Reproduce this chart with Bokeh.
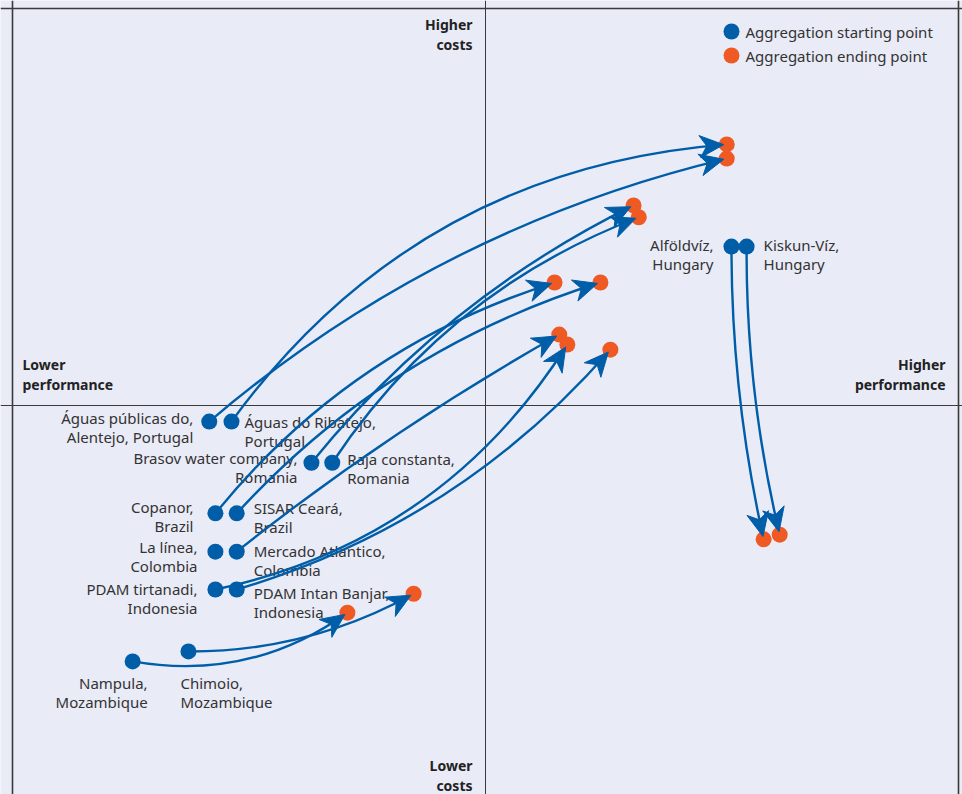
import numpy as np
from bokeh.plotting import figure
from bokeh.models import ColumnDataSource, Range1d, Span, Label
from bokeh.core.properties import value
from bokeh.embed import file_html
from bokeh.resources import INLINE

# ---------------- data ----------------
utilities = ["Águas públicas do,\nAlentejo, Portugal", "Águas do Ribatejo,\nPortugal",
             "Brasov water company,\nRomania", "Raja constanta,\nRomania",
             "Copanor,\nBrazil", "SISAR Ceará,\nBrazil",
             "La línea,\nColombia", "Mercado Atlantico,\nColombia",
             "PDAM tirtanadi,\nIndonesia", "PDAM Intan Banjar,\nIndonesia",
             "Nampula,\nMozambique", "Chimoio,\nMozambique",
             "Alföldvíz,\nHungary", "Kiskun-Víz,\nHungary"]
start_perf = [-5.84, -5.37, -3.68, -3.24, -5.71, -5.26, -5.71, -5.26, -5.71, -5.26, -7.46, -6.28, 5.20, 5.52]
start_cost = [-0.34, -0.34, -1.21, -1.21, -2.28, -2.28, -3.09, -3.09, -3.89, -3.89, -5.41, -5.20, 3.36, 3.36]
end_perf = [5.10, 5.10, 3.13, 3.24, 1.46, 2.43, np.nan, 1.56, 1.73, 2.64, -2.92, -1.52, 5.88, 6.22]
end_cost = [5.22, 5.52, 4.23, 3.98, 2.60, 2.60, np.nan, 1.50, 1.29, 1.18, -4.38, -3.98, -2.83, -2.73]

legend_labels = ["Aggregation starting point", "Aggregation ending point"]
quadrant_labels = {"top": "Higher\ncosts", "bottom": "Lower\ncosts",
                   "left": "Lower\nperformance", "right": "Higher\nperformance"}

# ---------------- styles ----------------
BG = "#E9EBF7"
BLUE = "#005DA8"
ORANGE = "#EF5A24"
TXT = "#333333"
FONT = "Noto Sans"
bend = [0.12, 0.23, 0.11, 0.16, 0.15, 0.135, 0.0, 0.04, -0.21, -0.145, -0.21, -0.13, -0.055, -0.06]
label_align = ["right", "left", "right", "left", "right", "left", "right", "left",
               "right", "left", "right", "left", "right", "left"]
label_dx = [-16, 13, -14, 15, -22, 17, -18, 17, -18, 17, 15, -8, -18, 17]
label_dy = [-4, 0, -5, -4, -6, -5, -5, -1, 0, 4, 22, 32, -2, -2]
LINE_STEP = 19

W, H = 962, 794
PX = 47.3                      # pixels per unit (both axes)
X0, Y0 = 485, 405              # pixel position of the quadrant cross
FRAME_L, FRAME_R, FRAME_T = -10.0, 10.0, 397 / PX

p = figure(width=W, height=H, output_backend="svg", toolbar_location=None,
           x_range=Range1d(-X0 / PX, (W - X0) / PX), y_range=Range1d(-(H - Y0) / PX, Y0 / PX),
           min_border_left=0, min_border_right=0, min_border_top=0, min_border_bottom=0,
           background_fill_color=BG, border_fill_color=BG, outline_line_color=None)
p.axis.visible = False
p.xgrid.visible = False
p.ygrid.visible = False

# frame borders and quadrant lines
for loc, dim, w in [(FRAME_L, "height", 1.6), (FRAME_R, "height", 1.6),
                    (FRAME_T, "width", 1.6), (0, "height", 1.0), (0, "width", 1.0)]:
    p.add_layout(Span(location=loc, dimension=dim, line_color="#3a3a3a", line_width=w,
                      level="underlay"))

# ---------------- point labels ----------------
rows = {"left": dict(x=[], y=[], t=[], dx=[], dy=[]), "right": dict(x=[], y=[], t=[], dx=[], dy=[])}
for i, name in enumerate(utilities):
    for k, line in enumerate(name.split("\n")):
        r = rows[label_align[i]]
        r["x"].append(start_perf[i]); r["y"].append(start_cost[i]); r["t"].append(line)
        r["dx"].append(label_dx[i]); r["dy"].append(label_dy[i] + k * LINE_STEP)
for align, r in rows.items():
    p.text(x="x", y="y", text="t", x_offset="dx", y_offset="dy", source=ColumnDataSource(r),
           text_align=align, text_baseline="middle", text_font=value(FONT),
           text_font_size="15px", text_color=TXT)

# ---------------- curves ----------------
sx = np.array(start_perf); sy = np.array(start_cost)
ex = np.array(end_perf); ey = np.array(end_cost)
b = np.array(bend)
ok = ~np.isnan(ex)
dx = ex - sx; dy = ey - sy
cx = (sx + ex) / 2 - b * dy
cy = (sy + ey) / 2 + b * dx
curves = ColumnDataSource(dict(x0=sx[ok], y0=sy[ok], x1=ex[ok], y1=ey[ok], cx=cx[ok], cy=cy[ok]))
p.quadratic(x0="x0", y0="y0", x1="x1", y1="y1", cx="cx", cy="cy", source=curves,
            line_color=BLUE, line_width=2.4)

start_r = p.scatter(start_perf, start_cost, size=16, marker="circle",
                    fill_color=BLUE, line_color=None)
end_r = p.scatter(ex[ok], ey[ok], size=16, marker="circle", fill_color=ORANGE, line_color=None)

# arrow heads (stealth shape) along the end tangent
HEAD_LEN, HEAD_HW, HEAD_NOTCH, TIP_BACK = 24 / PX, 11 / PX, 7 / PX, 3 / PX
tx = ex[ok] - cx[ok]; ty = ey[ok] - cy[ok]
tl = np.hypot(tx, ty)
ux, uy = tx / tl, ty / tl
nx, ny = -uy, ux
tipx = ex[ok] - ux * TIP_BACK
tipy = ey[ok] - uy * TIP_BACK
bx = tipx - ux * HEAD_LEN
by = tipy - uy * HEAD_LEN
hx = [[a, c + n * HEAD_HW, c + u * HEAD_NOTCH, c - n * HEAD_HW]
      for a, c, n, u in zip(tipx, bx, nx, ux)]
hy = [[a, c + n * HEAD_HW, c + u * HEAD_NOTCH, c - n * HEAD_HW]
      for a, c, n, u in zip(tipy, by, ny, uy)]
p.patches(hx, hy, fill_color=BLUE, line_color=BLUE, line_width=1)

# ---------------- quadrant labels ----------------
def qlabel(text, x, y_from_top, align):
    for k, line in enumerate(text.split("\n")):
        p.add_layout(Label(x=x, y=H - (y_from_top + k * 20), x_units="screen", y_units="screen",
                           text=line, text_align=align, text_baseline="middle",
                           text_font=FONT, text_font_size="14px", text_font_style="bold",
                           text_color="#222222"))
qlabel(quadrant_labels["top"], 472, 24, "right")
qlabel(quadrant_labels["bottom"], 472, 765, "right")
qlabel(quadrant_labels["left"], 22, 364, "left")
qlabel(quadrant_labels["right"], 945, 364, "right")

# ---------------- legend ----------------
leg_x = FRAME_R - 227 / PX
leg_y = [FRAME_T - 23 / PX, FRAME_T - 47 / PX]
p.scatter([leg_x, leg_x], leg_y, size=16, marker="circle",
          fill_color=[BLUE, ORANGE], line_color=None)
p.text([leg_x, leg_x], leg_y, text=legend_labels, x_offset=14, text_align="left",
       text_baseline="middle", text_font=value(FONT), text_font_size="15px", text_color=TXT)

open("out.html", "w").write(file_html(p, INLINE))
